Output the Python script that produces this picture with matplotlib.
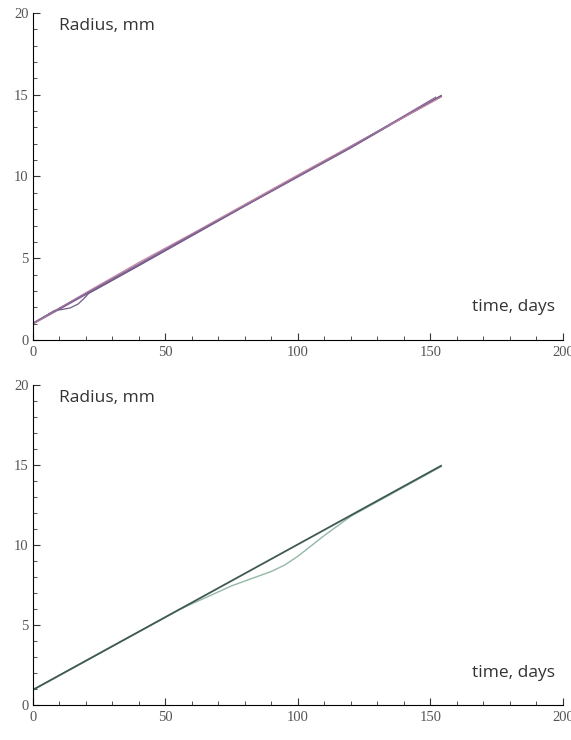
import matplotlib.pyplot as plt
from matplotlib.ticker import MultipleLocator

# top panel: several fitted radius curves (purple family)
t_a = [0, 154]
r_a = [1.0, 14.9]
t_b = [0, 5, 8, 11, 14, 17, 19, 21, 25, 40, 80, 120, 154]
r_b = [1.0, 1.5, 1.8, 1.87, 1.96, 2.2, 2.5, 2.85, 3.2, 4.55, 8.2, 11.75, 14.95]
t_c = [0, 20, 40, 60, 100, 154]
r_c = [1.0, 2.9, 4.75, 6.5, 10.1, 14.85]
t_d = [0, 30, 60, 90, 120, 152]
r_d = [1.05, 3.75, 6.45, 9.1, 11.8, 14.85]

# bottom panel
t_e = [0, 154]
r_e = [0.95, 14.95]
t_f = [0, 55, 65, 75, 85, 90, 95, 100, 105, 110, 115, 120, 154]
r_f = [0.95, 5.95, 6.7, 7.45, 8.05, 8.35, 8.75, 9.3, 9.95, 10.6, 11.2, 11.8, 14.9]

fig = plt.figure(figsize=(5.71, 7.4), dpi=100)
ax1 = fig.add_axes([0.0578, 0.5405, 0.928, 0.442])
ax2 = fig.add_axes([0.0578, 0.0473, 0.928, 0.4324])

ax1.plot(t_a, r_a, color='#7b5c8c', lw=1.3)
ax1.plot(t_b, r_b, color='#6f5a86', lw=0.9)
ax1.plot(t_c, r_c, color='#c48aa0', lw=0.9)
ax1.plot(t_d, r_d, color='#8a6a9c', lw=0.9)

ax2.plot(t_f, r_f, color='#94b8a6', lw=1.0)
ax2.plot(t_e, r_e, color='#3f5a52', lw=1.3)

for ax in (ax1, ax2):
    ax.set_xlim(0, 200)
    ax.set_ylim(0, 20)
    ax.spines['top'].set_visible(False)
    ax.spines['right'].set_visible(False)
    ax.xaxis.set_major_locator(MultipleLocator(50))
    ax.xaxis.set_minor_locator(MultipleLocator(10))
    ax.yaxis.set_major_locator(MultipleLocator(5))
    ax.yaxis.set_minor_locator(MultipleLocator(1))
    ax.tick_params(which='both', direction='in', colors='#333333', labelcolor='#555555',
                   labelsize=10.5)
    ax.tick_params(axis='x', pad=4)
    ax.tick_params(axis='y', pad=3)
    ax.tick_params(which='major', length=5)
    ax.tick_params(which='minor', length=3)
    for lab in ax.get_xticklabels() + ax.get_yticklabels():
        lab.set_fontfamily('Liberation Serif')
    ax.text(0.05, 0.985, 'Radius, mm', transform=ax.transAxes, fontsize=12.5,
            family='Open Sans', color='#333333', va='top')
    ax.text(0.985, 0.125, 'time, days', transform=ax.transAxes, fontsize=12.5,
            family='Open Sans', color='#333333', ha='right', va='top')

fig.savefig('out.png', dpi=100)
